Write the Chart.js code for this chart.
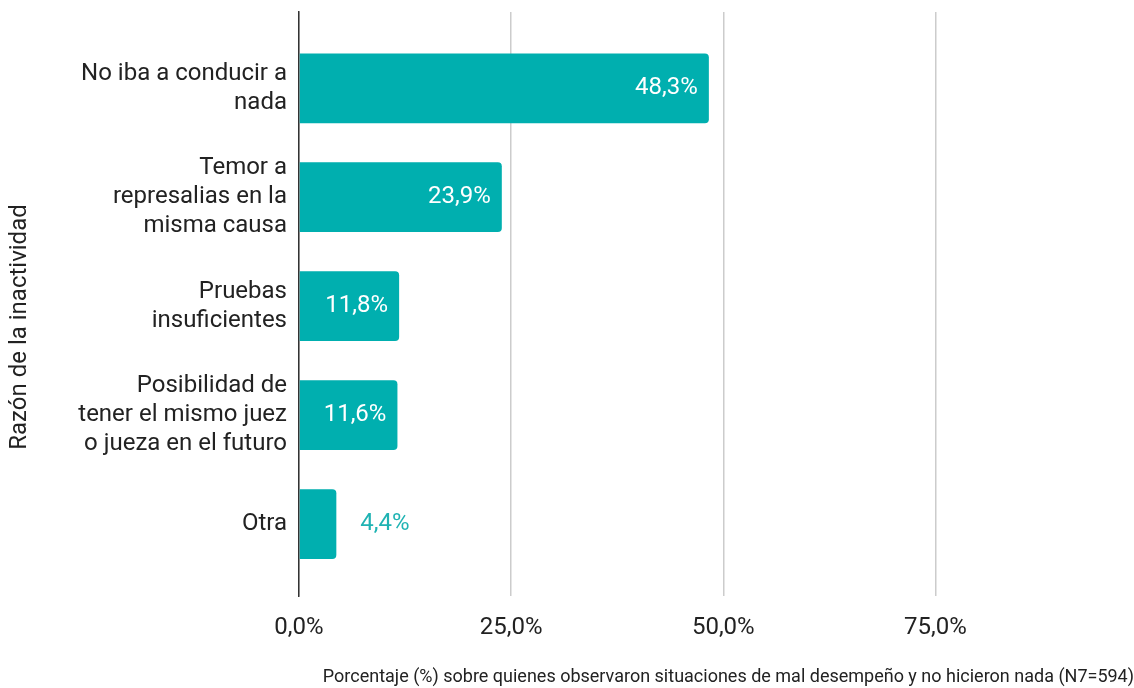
<!DOCTYPE html>
<html lang="es">
  <head>
    <meta charset="UTF-8" />
    <title>Razón de la inactividad</title>
    <style>
      html, body { margin: 0; padding: 0; background: #fff; }
      .chart { width: 1134px; height: 688px; }
    </style>
  </head>
  <body>
    <script src="https://cdn.jsdelivr.net/npm/chart.js"></script>
    <div class="chart"><canvas id="chart"></canvas></div>

    <script>
      // categorías (líneas de cada etiqueta) y valores en %
      const categories = [
        ["No iba a conducir a", "nada"],
        ["Temor a", "represalias en la", "misma causa"],
        ["Pruebas", "insuficientes"],
        ["Posibilidad de", "tener el mismo juez", "o jueza en el futuro"],
        ["Otra"],
      ];
      const values = [48.3, 23.9, 11.8, 11.6, 4.4];
      const xTicks = [0, 25, 50, 75];
      const yTitle = "Razón de la inactividad";
      const xTitle = "Porcentaje (%) sobre quienes observaron situaciones de mal desempeño y no hicieron nada (N7=594)";

      const teal = "#00AFAF";
      const fmt = (v) => v.toFixed(1).replace(".", ",") + "%";

      window.onload = () => {
        const ctx = document.getElementById("chart");
        Chart.defaults.font.family = "Roboto";

        // etiquetas de valor y título del eje vertical
        const labelsPlugin = {
          id: "barLabels",
          afterDatasetsDraw(chart) {
            const c = chart.ctx;
            const meta = chart.getDatasetMeta(0);
            c.save();
            c.font = "24px Roboto";
            c.textBaseline = "middle";
            meta.data.forEach((bar, i) => {
              const txt = fmt(values[i]);
              const w = c.measureText(txt).width;
              if (bar.x - bar.base > w + 20) {
                c.fillStyle = "#ffffff";
                c.textAlign = "right";
                c.fillText(txt, bar.x - 11, bar.y);
              } else {
                c.fillStyle = "#1FB3B3";
                c.textAlign = "left";
                c.fillText(txt, bar.x + 24, bar.y);
              }
            });
            // título eje y
            c.translate(20, 327);
            c.rotate(-Math.PI / 2);
            c.textAlign = "center";
            c.fillStyle = "#222";
            c.fillText(yTitle, 0, 0);
            c.restore();
          },
        };

        new Chart(ctx, {
          type: "bar",
          data: {
            datasets: [
              {
                data: values.map((v, i) => ({ x: v, y: i })),
                backgroundColor: teal,
                borderRadius: 4,
                borderSkipped: "start",
                barPercentage: 0.8,
                categoryPercentage: 0.8,
              },
            ],
          },
          options: {
            indexAxis: "y",
            responsive: true,
            maintainAspectRatio: false,
            animation: false,
            layout: { padding: { top: 12, left: 0, right: 0, bottom: 0 } },
            plugins: {
              legend: { display: false },
              tooltip: { enabled: false },
            },
            scales: {
              x: {
                type: "linear",
                min: 0,
                max: 98.4,
                afterBuildTicks: (s) => {
                  s.ticks = xTicks.map((v) => ({ value: v }));
                },
                afterFit: (s) => {
                  s.height = 92;
                  s.paddingLeft = 0;
                  s.paddingRight = 0;
                },
                grid: { color: "#cccccc", lineWidth: 1.5, drawTicks: false },
                border: { display: false },
                ticks: {
                  padding: 18,
                  color: "#222",
                  font: { size: 24 },
                  callback: (v) => fmt(v),
                },
                title: {
                  display: true,
                  text: xTitle,
                  align: "end",
                  color: "#222",
                  font: { size: 18 },
                  padding: { top: 17, bottom: 0 },
                },
              },
              y: {
                type: "linear",
                reverse: true,
                offset: false,
                min: -0.7,
                max: 4.66,
                afterBuildTicks: (s) => {
                  s.ticks = categories.map((_, i) => ({ value: i }));
                },
                afterFit: (s) => {
                  s.width = 299;
                  s.paddingTop = 0;
                  s.paddingBottom = 0;
                },
                grid: { display: false, drawTicks: false },
                border: { color: "#333", width: 1.5 },
                ticks: {
                  padding: 12,
                  color: "#222",
                  font: { size: 24, lineHeight: 1.2 },
                  callback: (v) => categories[v],
                },
              },
            },
          },
          plugins: [labelsPlugin],
        });
      };
    </script>
  </body>
</html>
